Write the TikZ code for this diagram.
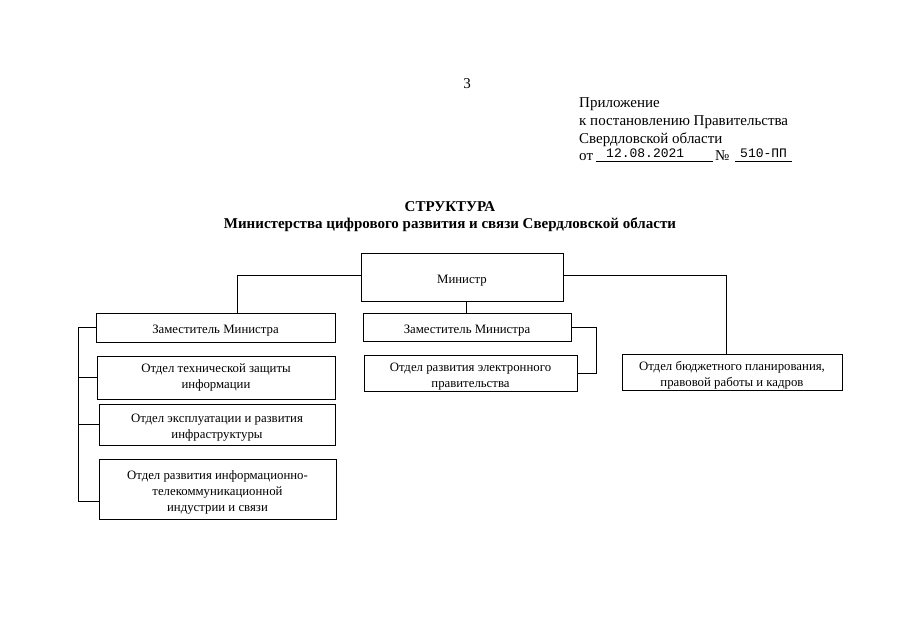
\documentclass[tikz,border=0pt]{standalone}
\usepackage{fontspec}
\setmainfont{Liberation Serif}
\setmonofont{Liberation Mono}

\def\boxfont{\fontsize{12.8}{16}\selectfont}
\def\headfont{\fontsize{15}{18}\selectfont}
\def\lft{\rule{0pt}{15pt}}

\begin{document}
\begin{tikzpicture}[x=1pt, y=-1pt,
    box/.style={draw, line width=0.7pt, align=center, inner sep=1pt, font=\boxfont},
    link/.style={line width=0.7pt}]
  \useasboundingbox (0,0) rectangle (905,640);

  % page number and header
  \node[font=\headfont] (page) at (467,84) {3};
  \node[font=\headfont, anchor=north west, align=left, inner sep=0pt] (annex) at (579,97.5)
    {Приложение\\к постановлению Правительства\\Свердловской области};
  \node[font=\headfont, anchor=base west, inner sep=0pt] (ot) at (579,160) {от};
  \node[font=\fontsize{13}{15}\ttfamily, anchor=base west, inner sep=0pt] (date) at (606,157) {12.08.2021};
  \node[font=\headfont, anchor=base west, inner sep=0pt] (no) at (715,160) {№};
  \node[font=\fontsize{13}{15}\ttfamily, anchor=base west, inner sep=0pt] (num) at (740,157) {510-ПП};
  \draw[link] (596,161) -- (713,161);
  \draw[link] (735,161) -- (792,161);

  % title
  \node[font=\fontsize{15}{17}\selectfont\bfseries, align=center] (title) at (450,217)
    {СТРУКТУРА\\Министерства цифрового развития и связи Свердловской области};

  % boxes
  \node[box, minimum width=202pt, minimum height=48pt] (min) at (462,277) {\lft Министр};
  \node[box, minimum width=239pt, minimum height=29pt] (dep1) at (215.5,327.5) {\lft Заместитель Министра};
  \node[box, minimum width=238pt, minimum height=43pt] (tech) at (216,377.5)
    {Отдел технической защиты\\информации};
  \node[box, minimum width=236pt, minimum height=41pt] (infra) at (217,424.5)
    {\lft Отдел эксплуатации и развития\\инфраструктуры};
  \node[box, minimum width=237pt, minimum height=60pt] (ind) at (217.5,489)
    {\lft Отдел развития информационно-\\телекоммуникационной\\индустрии и связи};
  \node[box, minimum width=208pt, minimum height=28pt] (dep2) at (467,327) {\lft Заместитель Министра};
  \node[box, minimum width=213pt, minimum height=35pt] (egov) at (470.5,373)
    {\lft Отдел развития электронного\\правительства};
  \node[box, minimum width=220pt, minimum height=36pt] (budget) at (732,372)
    {\lft Отдел бюджетного планирования,\\правовой работы и кадров};

  % connectors
  \coordinate (bus) at (78,0);
  \coordinate (indin) at ([yshift=-12pt]ind.west);
  \draw[link] ([yshift=2pt]min.west) -| ([xshift=21.5pt]dep1.north);
  \draw[link] ([yshift=2pt]min.east) -| ([xshift=-6pt]budget.north);
  \draw[link] ([xshift=-1pt]dep2.north) -- ([xshift=-1pt]dep2.north |- min.south);
  \draw[link] (dep2.east) -- ++(25,0) |- (egov.east);
  \draw[link] (dep1.west) -| (bus |- indin) -- (indin);
  \draw[link] (bus |- tech.west) -- (tech.west);
  \draw[link] (bus |- infra.west) -- (infra.west);
\end{tikzpicture}
\end{document}
